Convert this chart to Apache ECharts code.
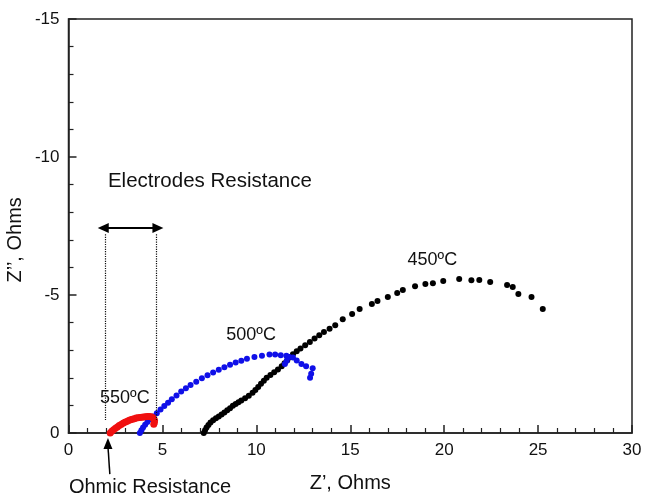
<!DOCTYPE html>
<html>
<head>
<meta charset="utf-8">
<script src="https://cdn.jsdelivr.net/npm/echarts@6/dist/echarts.min.js"></script>
<style>
  html, body { margin: 0; padding: 0; background: #fff; }
  #main { width: 645px; height: 498px; }
</style>
</head>
<body>
<div id="main"></div>
<script>
// 550ºC
var red550 = [
  [2.22, 0], [2.3, -0.06], [2.4, -0.12], [2.5, -0.17], [2.6, -0.22], [2.7, -0.27],
  [2.8, -0.31], [2.9, -0.35], [3.0, -0.39], [3.1, -0.42], [3.2, -0.45], [3.3, -0.48],
  [3.4, -0.5], [3.5, -0.52], [3.6, -0.54], [3.7, -0.55], [3.8, -0.56], [3.9, -0.57],
  [4.0, -0.58], [4.1, -0.59], [4.2, -0.6], [4.3, -0.6], [4.4, -0.59], [4.48, -0.56],
  [4.54, -0.51], [4.58, -0.45], [4.57, -0.38], [4.54, -0.32]
]
// 500ºC
var blue500 = [
  [3.8, 0], [3.88, -0.1], [3.97, -0.2], [4.08, -0.3], [4.2, -0.4], [4.35, -0.5],
  [4.5, -0.6], [4.7, -0.72], [4.9, -0.85], [5.1, -0.98], [5.3, -1.1], [5.5, -1.22],
  [5.75, -1.36], [6.0, -1.5], [6.25, -1.62], [6.5, -1.74], [6.8, -1.86], [7.1, -1.98],
  [7.4, -2.09], [7.7, -2.19], [8.0, -2.29], [8.3, -2.38], [8.6, -2.47], [8.9, -2.55],
  [9.2, -2.62], [9.5, -2.69], [9.9, -2.75], [10.3, -2.8], [10.7, -2.84], [11.0, -2.84],
  [11.3, -2.82], [11.6, -2.8], [11.75, -2.75], [11.62, -2.62], [11.52, -2.5],
  [11.95, -2.74], [12.15, -2.63], [12.4, -2.5], [12.65, -2.42], [13.0, -2.35],
  [12.92, -2.15], [12.86, -2.0]
]
// 450ºC
var black450 = [
  [7.2, 0], [7.27, -0.1], [7.35, -0.2], [7.45, -0.29], [7.56, -0.38], [7.7, -0.46],
  [7.85, -0.53], [8.0, -0.6], [8.15, -0.67], [8.3, -0.74], [8.45, -0.82], [8.6, -0.9],
  [8.75, -0.99], [8.9, -1.05], [9.05, -1.11], [9.2, -1.18], [9.4, -1.26], [9.6, -1.35],
  [9.8, -1.46], [9.95, -1.56], [10.1, -1.67], [10.25, -1.78], [10.4, -1.89], [10.55, -2.0],
  [10.75, -2.1], [10.95, -2.2], [11.15, -2.3], [11.35, -2.42], [11.5, -2.53], [11.65, -2.64],
  [11.8, -2.75], [11.95, -2.85], [12.15, -2.96], [12.35, -3.06], [12.6, -3.18], [12.85, -3.3],
  [13.1, -3.42], [13.35, -3.54], [13.6, -3.66], [13.9, -3.78], [14.2, -3.9], [14.6, -4.12],
  [15.1, -4.31], [15.5, -4.49], [16.15, -4.67], [16.45, -4.78], [17.0, -4.93], [17.5, -5.07],
  [17.8, -5.18], [18.45, -5.32], [19.0, -5.4], [19.4, -5.43], [19.95, -5.51], [20.8, -5.58],
  [21.45, -5.53], [21.87, -5.54], [22.45, -5.47], [23.35, -5.36], [23.65, -5.29],
  [23.95, -5.04], [24.65, -4.93], [25.25, -4.49]
]

// text labels: [text, x, y] in data units
var tempLabels = [
  ['550ºC', 3.0, -1.27],
  ['500ºC', 9.72, -3.55],
  ['450ºC', 19.37, -6.27]
]
var electrodeLeft = 1.94
var electrodeRight = 4.66

var chart = echarts.init(document.getElementById('main'))

var axisCommon = {
  axisLine: { onZero: false, lineStyle: { color: '#222', width: 1.5 } },
  axisTick: { inside: true, length: 8, lineStyle: { color: '#222', width: 1.5 } },
  minorTick: { show: true, splitNumber: 5, length: 5, lineStyle: { color: '#222', width: 1.2 } },
  splitLine: { show: false },
  axisLabel: { color: '#111', fontSize: 17, fontFamily: 'Liberation Sans', margin: 9 },
  nameTextStyle: { color: '#111', fontSize: 20, fontFamily: 'Liberation Sans' }
}

var option = {
  animation: false,
  grid: {
    left: 68.5, right: 13, top: 19, bottom: 65,
    containLabel: false, outerBoundsMode: 'none',
    show: true, borderColor: '#222', borderWidth: 1.5
  },
  xAxis: Object.assign({}, axisCommon, {
    type: 'value', min: 0, max: 30, interval: 5,
    name: 'Z’, Ohms', nameLocation: 'middle', nameGap: 40
  }),
  yAxis: Object.assign({}, axisCommon, {
    type: 'value', min: -15, max: 0, interval: 5, inverse: true
  }),
  series: [
    {
      type: 'scatter', data: black450, symbolSize: 6,
      itemStyle: { color: '#000', opacity: 1 }, silent: true
    },
    {
      type: 'scatter', data: blue500, symbolSize: 6,
      itemStyle: { color: '#1010e8', opacity: 1 }, silent: true
    },
    {
      type: 'scatter', data: red550, symbolSize: 7,
      itemStyle: { color: '#f01010', opacity: 1 }, silent: true,
      markLine: {
        silent: true,
        label: { show: false },
        symbol: 'none',
        lineStyle: { color: '#111', type: 'dotted', width: 1.2 },
        data: [
          [{ coord: [electrodeLeft, -7.2] }, { coord: [electrodeLeft, -0.47] }],
          [{ coord: [electrodeRight, -7.2] }, { coord: [electrodeRight, -0.47] }],
          [
            { coord: [1.85, -7.43], symbol: 'triangle', symbolSize: [10, 11], symbolRotate: 90,
              lineStyle: { type: 'solid', width: 2, color: '#000' } },
            { coord: [4.76, -7.43], symbol: 'triangle', symbolSize: [10, 11], symbolRotate: -90 }
          ]
        ]
      }
    }
  ]
}
chart.setOption(option)

// annotations placed through the chart's own scales
function px(x, y) { return chart.convertToPixel({ gridIndex: 0 }, [x, y]) }

var graphics = tempLabels.map(function (t) {
  var p = px(t[1], t[2])
  return {
    type: 'text', x: p[0], y: p[1],
    style: { text: t[0], fill: '#111', font: '18px "Liberation Sans"', align: 'center', verticalAlign: 'middle' }
  }
})
var pe = px(2.1, -9.13)
graphics.push({
  type: 'text', x: pe[0], y: pe[1],
  style: { text: 'Electrodes Resistance', fill: '#111', font: '20.5px "Liberation Sans"', align: 'left', verticalAlign: 'middle' }
})
var po = px(4.34, 1.99)
graphics.push({
  type: 'text', x: po[0], y: po[1],
  style: { text: 'Ohmic Resistance', fill: '#111', font: '20px "Liberation Sans"', align: 'center', verticalAlign: 'middle' }
})
// y axis title
graphics.push({
  type: 'text', x: 15, y: px(0, -7.0)[1], rotation: Math.PI / 2,
  style: { text: 'Z’’, Ohms', fill: '#111', font: '20px "Liberation Sans"', align: 'center', verticalAlign: 'middle' }
})
var a0 = px(2.2, 1.49), a1 = px(2.1, 0.18)
graphics.push({
  type: 'line', shape: { x1: a0[0], y1: a0[1], x2: a1[0], y2: a1[1] + 8 },
  style: { stroke: '#000', lineWidth: 1.5 }
})
graphics.push({
  type: 'polygon',
  shape: { points: [[a1[0], a1[1]], [a1[0] - 4.5, a1[1] + 11], [a1[0] + 4.5, a1[1] + 11]] },
  style: { fill: '#000' }
})
chart.setOption({ graphic: graphics })
</script>
</body>
</html>
